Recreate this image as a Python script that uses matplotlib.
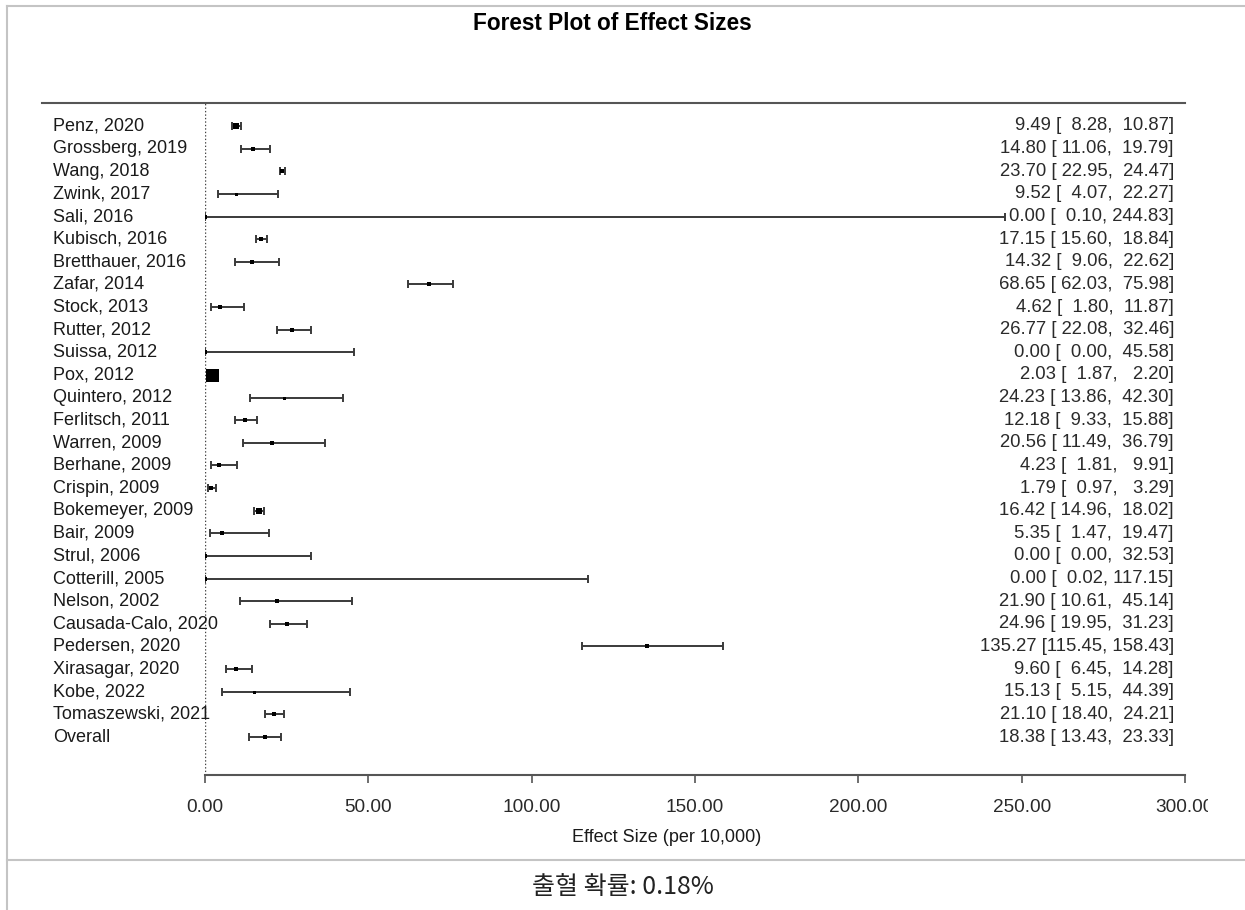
import matplotlib.pyplot as plt
import matplotlib.transforms as mtransforms
from matplotlib.lines import Line2D

# study rows, top to bottom (last row is the pooled estimate)
studies = ["Penz, 2020", "Grossberg, 2019", "Wang, 2018", "Zwink, 2017", "Sali, 2016",
           "Kubisch, 2016", "Bretthauer, 2016", "Zafar, 2014", "Stock, 2013", "Rutter, 2012",
           "Suissa, 2012", "Pox, 2012", "Quintero, 2012", "Ferlitsch, 2011", "Warren, 2009",
           "Berhane, 2009", "Crispin, 2009", "Bokemeyer, 2009", "Bair, 2009", "Strul, 2006",
           "Cotterill, 2005", "Nelson, 2002", "Causada-Calo, 2020", "Pedersen, 2020",
           "Xirasagar, 2020", "Kobe, 2022", "Tomaszewski, 2021", "Overall"]
estimate = [9.49, 14.80, 23.70, 9.52, 0.00, 17.15, 14.32, 68.65, 4.62, 26.77, 0.00, 2.03,
            24.23, 12.18, 20.56, 4.23, 1.79, 16.42, 5.35, 0.00, 0.00, 21.90, 24.96, 135.27,
            9.60, 15.13, 21.10, 18.38]
ci_lower = [8.28, 11.06, 22.95, 4.07, 0.10, 15.60, 9.06, 62.03, 1.80, 22.08, 0.00, 1.87,
            13.86, 9.33, 11.49, 1.81, 0.97, 14.96, 1.47, 0.00, 0.02, 10.61, 19.95, 115.45,
            6.45, 5.15, 18.40, 13.43]
ci_upper = [10.87, 19.79, 24.47, 22.27, 244.83, 18.84, 22.62, 75.98, 11.87, 32.46, 45.58, 2.20,
            42.30, 15.88, 36.79, 9.91, 3.29, 18.02, 19.47, 32.53, 117.15, 45.14, 31.23, 158.43,
            14.28, 44.39, 24.21, 23.33]
x_ticks = [0, 50, 100, 150, 200, 250, 300]

# box side (pixels) for each row, roughly following study weight
box_px = [6, 4, 5, 3, 4, 5, 4, 4, 4, 5, 4, 13, 3, 5, 3.5, 4, 5, 6, 4, 4, 4, 4, 5, 4, 4, 3, 5, 4]

W, H = 1245, 910
plt.rcParams['font.family'] = ['Liberation Sans', 'DejaVu Sans']

fig = plt.figure(figsize=(W / 100, H / 100), dpi=100)
fig.patch.set_facecolor('white')

# plotting region in pixel coordinates
x0, x1 = 205, 1185
y_top, y_axis = 103, 775
ax = fig.add_axes([x0 / W, 1 - y_axis / H, (x1 - x0) / W, (y_axis - y_top) / H])

row0, step = 126, 22.63
ax.set_xlim(0, 300)
ax.set_ylim((y_axis - row0) / step, (y_top - row0) / step)

dark = '#3a3a3a'
rows = list(range(len(studies)))

ax.axvline(0, color='#444444', lw=1.0, ls=(0, (1, 1.5)), zorder=1)

for i in rows:
    ax.hlines(i, ci_lower[i], ci_upper[i], color=dark, lw=1.4, zorder=2)
    ax.plot([ci_lower[i], ci_upper[i]], [i, i], ls='none', marker='|', ms=5.2,
            mew=1.4, color=dark, zorder=2)
    ax.plot(estimate[i], i, ls='none', marker='s', ms=box_px[i] * 0.72,
            mew=0, color='black', zorder=3)

lab_tr = mtransforms.blended_transform_factory(fig.transFigure, ax.transData)
for i in rows:
    ax.text(53 / W, i, studies[i], transform=lab_tr, ha='left', va='center',
            fontsize=13.0, color='#1a1a1a', clip_on=False)
    txt = f"{estimate[i]:.2f} [{ci_lower[i]:6.2f}, {ci_upper[i]:6.2f}]"
    ax.text(1174 / W, i, txt, transform=lab_tr, ha='right', va='center',
            fontsize=13.3, color='#2a2a2a', clip_on=False)

# axis: only the bottom line with downward ticks
for side in ['top', 'left', 'right']:
    ax.spines[side].set_visible(False)
ax.spines['bottom'].set_color('#555555')
ax.spines['bottom'].set_linewidth(1.5)
ax.set_yticks([])
ax.set_xticks(x_ticks)
ax.set_xticklabels([f"{t:.2f}" for t in x_ticks])
ax.tick_params(axis='x', direction='out', length=5.5, width=1.2, color='#555555',
               labelsize=13.7, labelcolor='#2a2a2a', pad=12)

# image edge cuts the last tick label
clip = mtransforms.TransformedBbox(mtransforms.Bbox([[0, 0], [1208 / W, 1]]), fig.transFigure)
for lbl in ax.get_xticklabels():
    lbl.set_clip_box(clip)
    lbl.set_clip_on(True)

fig.text(667 / W, 1 - 837 / H, "Effect Size (per 10,000)", ha='center', va='center',
         fontsize=13, color='#1a1a1a')
fig.text(612 / W, 1 - 24 / H, "Forest Plot of Effect Sizes", ha='center', va='center',
         fontsize=16.3, fontweight='bold', color='black')

# header rule above the rows
fig.add_artist(Line2D([42 / W, x1 / W], [1 - y_top / H] * 2, color='#555555', lw=1.5))

# surrounding table frame and caption cell
frame = '#c4c4c4'
fig.add_artist(Line2D([7 / W, 7 / W], [0, 1 - 6 / H], color=frame, lw=1.5))
fig.add_artist(Line2D([7 / W, 1], [1 - 6 / H] * 2, color=frame, lw=1.5))
fig.add_artist(Line2D([7 / W, 1], [1 - 860 / H] * 2, color=frame, lw=1.5))

fig.text(623 / W, 1 - 887 / H, "출혈 확률: 0.18%", ha='center', va='center',
         fontsize=18, color='#222222', family=['Noto Sans CJK KR', 'DejaVu Sans'])

fig.savefig('out.png', dpi=100, facecolor='white')
